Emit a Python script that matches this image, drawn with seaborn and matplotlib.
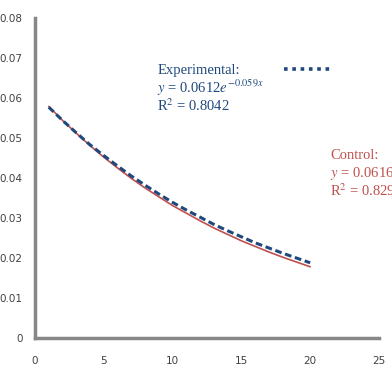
import numpy as np
import pandas as pd
import seaborn as sns
import matplotlib.pyplot as plt
from matplotlib.lines import Line2D

# values
time = [1, 2, 3, 4, 5, 6, 7, 8, 9, 10, 11, 12, 13, 14, 15, 16, 17, 18, 19, 20]
experimental = [0.0577, 0.0544, 0.0513, 0.0483, 0.0456, 0.0430, 0.0405, 0.0382,
                0.0360, 0.0339, 0.0320, 0.0302, 0.0284, 0.0268, 0.0253, 0.0238,
                0.0225, 0.0212, 0.0200, 0.0188]
control = [0.0579, 0.0544, 0.0512, 0.0481, 0.0452, 0.0425, 0.0399, 0.0375,
           0.0353, 0.0331, 0.0312, 0.0293, 0.0275, 0.0259, 0.0243, 0.0229,
           0.0215, 0.0202, 0.0190, 0.0178]
y_ticks = [0, 0.01, 0.02, 0.03, 0.04, 0.05, 0.06, 0.07, 0.08]
y_labels = ['0', '0.01', '0.02', '0.03', '0.04', '0.05', '0.06', '0.07', '0.08']
x_ticks = [0, 5, 10, 15, 20, 25]

df = pd.DataFrame({'time': time, 'Experimental': experimental, 'Control': control})

sns.set_style('white')
plt.rcParams['font.family'] = ['DejaVu Sans']

blue = '#1F497D'
red = '#C0504D'
grey = '#878787'

fig = plt.figure(figsize=(3.92, 3.75), dpi=100)
ax = fig.add_axes([35 / 392, 1 - 338 / 375, 344 / 392, 320 / 375])

sns.lineplot(data=df, x='time', y='Control', ax=ax, color=red, linewidth=1.2)
sns.lineplot(data=df, x='time', y='Experimental', ax=ax, color=blue,
             linewidth=2.2, linestyle=(0, (2.2, 1.2)))

ax.set_xlim(0, 25)
ax.set_ylim(0, 0.08)
ax.set_xticks(x_ticks)
ax.set_yticks(y_ticks)
ax.set_yticklabels(y_labels)

for side in ['top', 'right']:
    ax.spines[side].set_visible(False)
for side in ['left', 'bottom']:
    ax.spines[side].set_color(grey)
    ax.spines[side].set_linewidth(2.5)

ax.tick_params(axis='both', colors=grey, length=4, width=2.5, direction='out',
               labelsize=7.5, labelcolor='#404040')
ax.tick_params(axis='x', pad=9)
ax.tick_params(axis='y', pad=5)
ax.set_xlabel('Time (days)', family='Liberation Serif', fontsize=11, color='#404040')
ax.xaxis.set_label_coords(0.8, -0.135)
ax.set_ylabel('')

serif = 'Liberation Serif'
ax.text(0.356, 0.855, 'Experimental:\n$y$ = 0.0612$e^{-0.059x}$\nR$^2$ = 0.8042',
        transform=ax.transAxes, family=serif, fontsize=10.5, color=blue,
        va='top', ha='left', linespacing=1.0, math_fontfamily='stix')
ax.text(0.858, 0.59, 'Control:\n$y$ = 0.0616$e^{-0.062x}$\nR$^2$ = 0.8295',
        transform=ax.transAxes, family=serif, fontsize=10.5, color=red,
        va='top', ha='left', linespacing=1.0, math_fontfamily='stix', clip_on=False)

handle = Line2D([], [], color=blue, linewidth=2.6, linestyle=(0, (1, 1.3)))
leg = ax.legend(handles=[handle], labels=[''], loc='center',
                bbox_to_anchor=(0.79, 0.8375), frameon=False, handlelength=3.3,
                handletextpad=0, borderpad=0)

fig.savefig('out.png', dpi=100)
